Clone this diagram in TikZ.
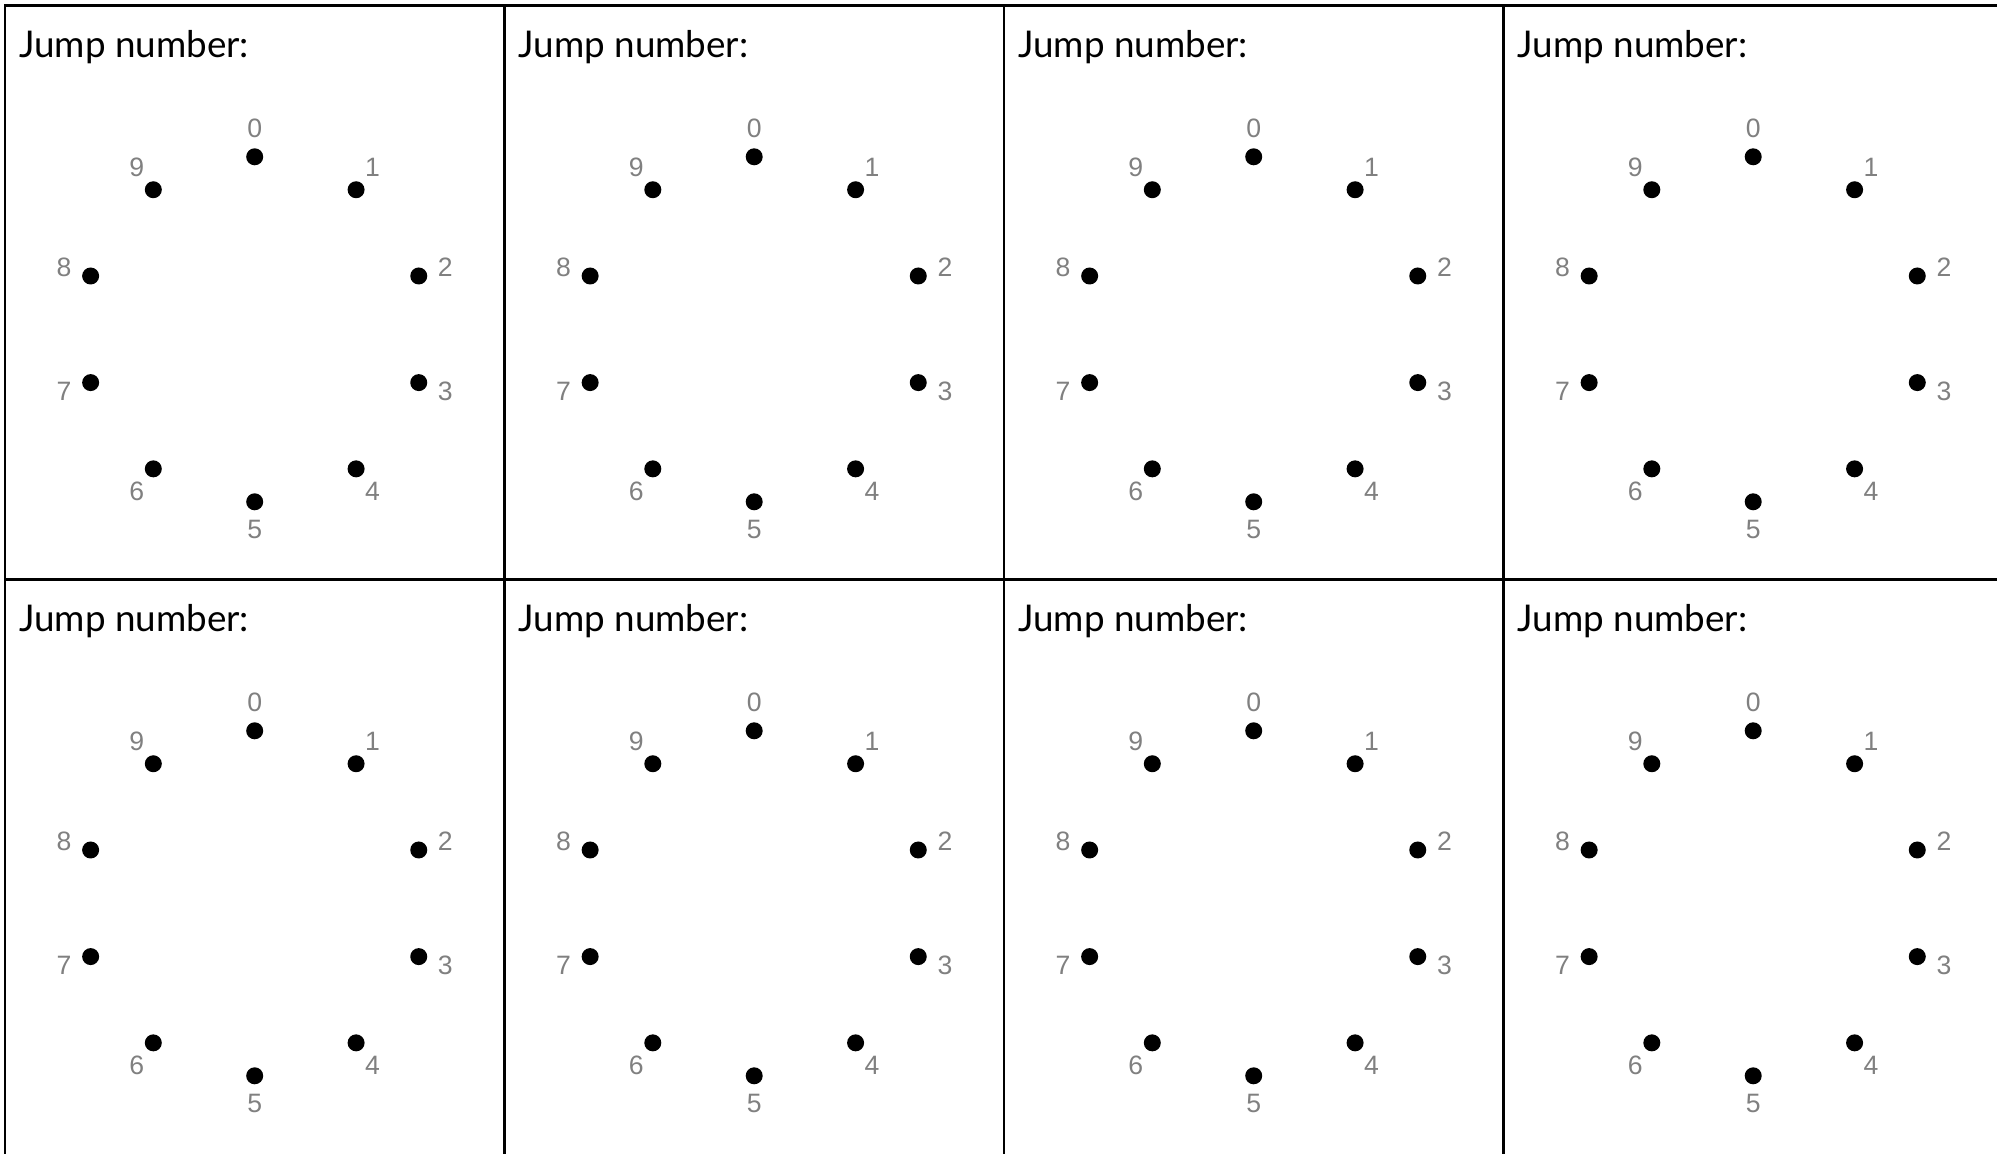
\documentclass[tikz,border=0pt]{standalone}
\usepackage{fontspec}
\setmainfont{Lato}
\newfontfamily\numfont{Liberation Sans}
\usetikzlibrary{calc}
\definecolor{cNum}{HTML}{808080}

\begin{document}
\begin{tikzpicture}[x=0.5pt,y=-0.5pt,
  dot/.style={circle,fill=black,minimum size=8.5pt,inner sep=0pt},
  num/.style={text=cNum,font=\numfont\fontsize{13.3}{13.3}\selectfont,inner sep=0pt},
  title/.style={anchor=base west,inner sep=0pt,font=\fontsize{18.4}{18.4}\selectfont},
  rule/.style={line width=1.3pt,line cap=rect}]
\useasboundingbox (0,0) rectangle (1997,1154);
% ---------- grid ----------
\foreach \y in {5.7,579.7}{\draw[rule] (5,\y) -- (1997,\y);}
\foreach \x in {5,504.5,1004,1503.5}{\draw[rule] (\x,5.7) -- (\x,1154);}
% ---------- cells ----------
\foreach \r in {0,1}{
  \foreach \c in {0,1,2,3}{
    \pgfmathsetmacro{\cx}{254.7+499.5*\c}
    \pgfmathsetmacro{\cy}{329.3+574*\r}
    \node[title] (jump-\r-\c) at ({\cx-236},{\cy-271.6}) {Jump number:};
    \foreach \k in {0,...,9}{
      \node[dot] (d-\r-\c-\k) at ({\cx+172.5*sin(36*\k)},{\cy-172.5*cos(36*\k)}) {};
      \node[num] (n-\r-\c-\k) at ({\cx+200.5*sin(36*\k)},{\cy-200.5*cos(36*\k)}) {\k};
    }
  }
}
\end{tikzpicture}
\end{document}
